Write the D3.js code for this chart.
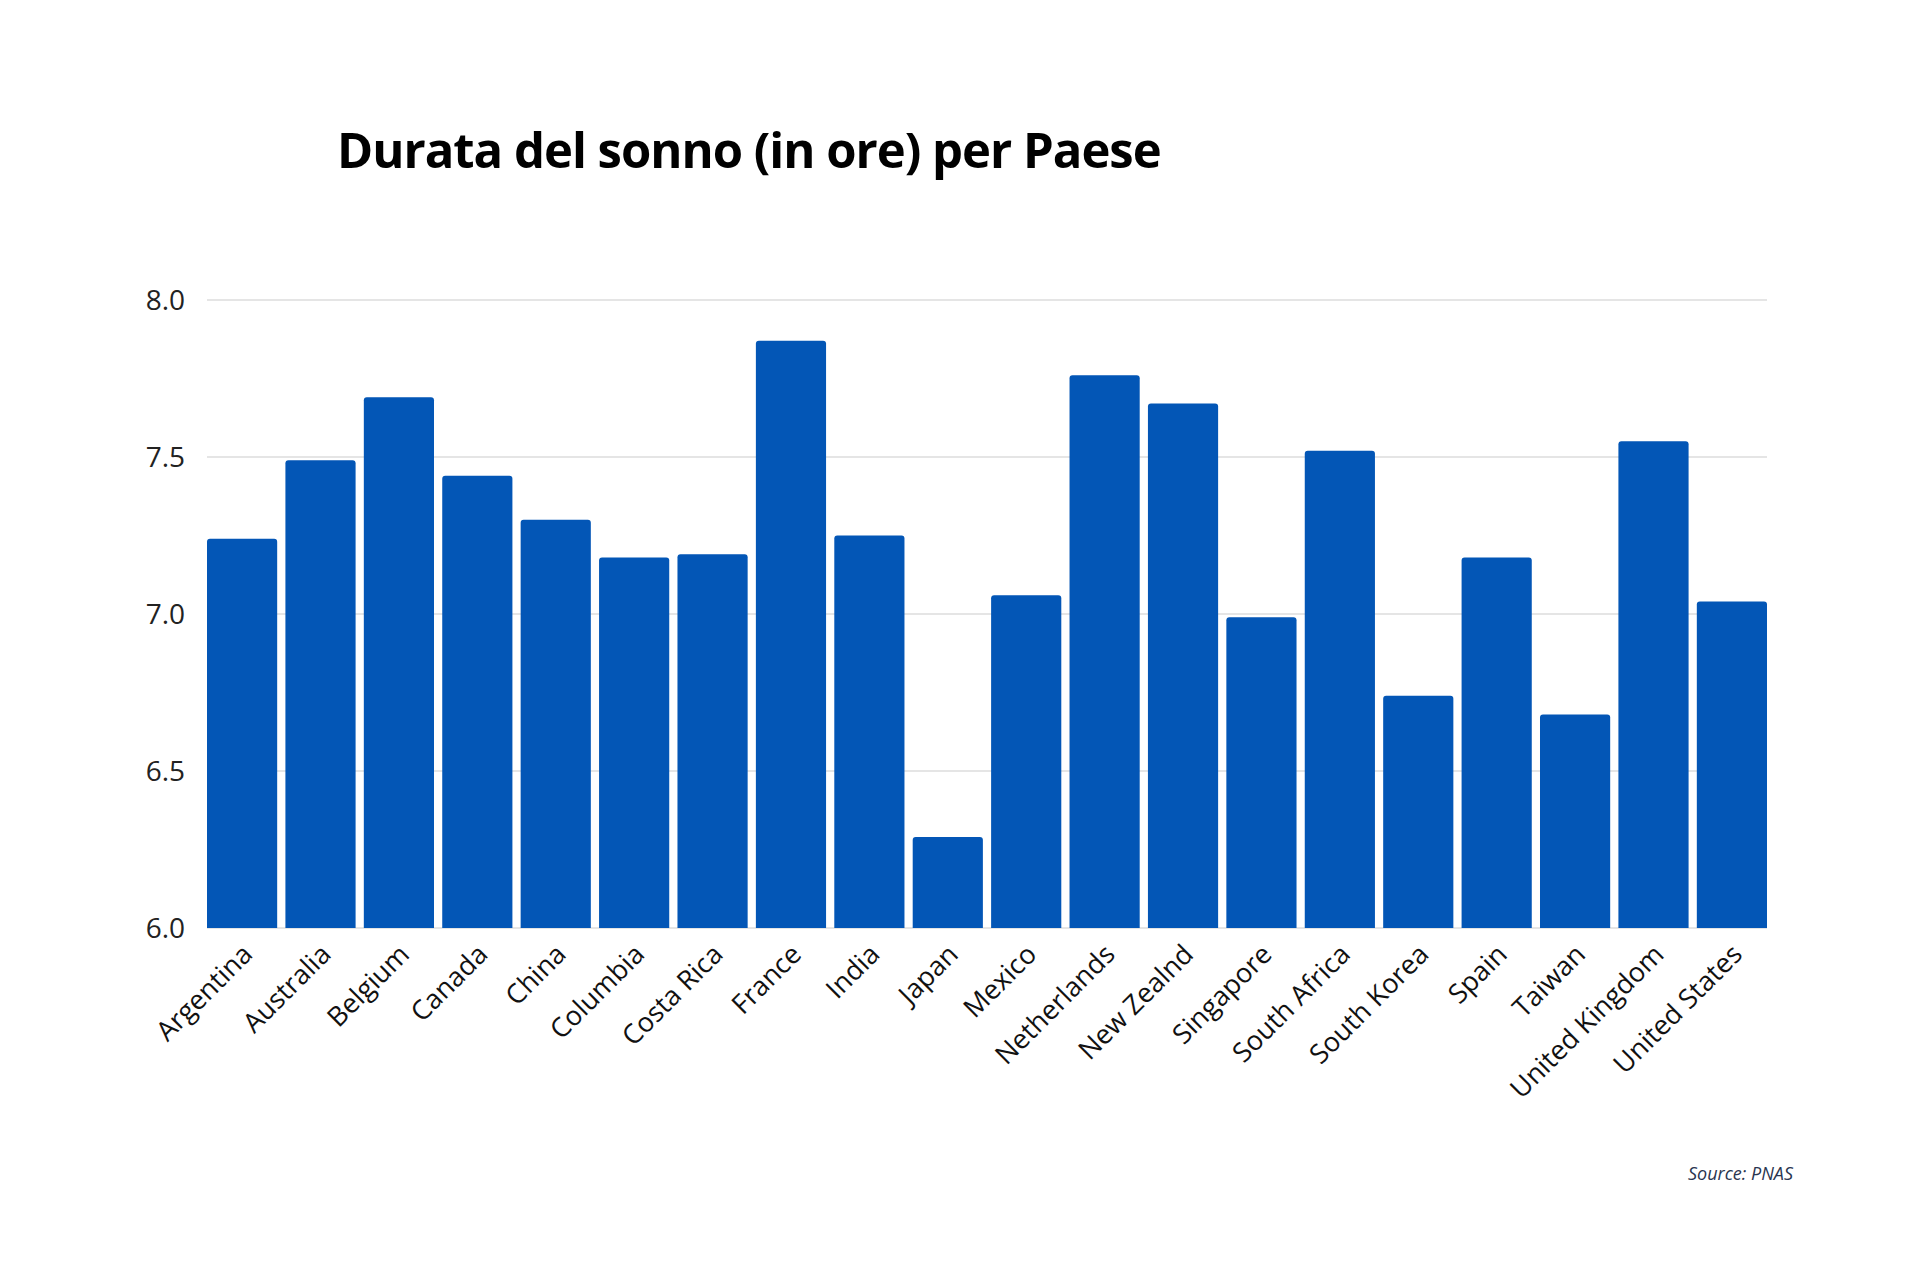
<!DOCTYPE html>
<html><head><meta charset="utf-8">
<script src="https://cdn.jsdelivr.net/npm/d3@7"></script>
<style>body{margin:0;background:#fff}</style>
</head><body>
<svg id="c" width="1920" height="1280"></svg>
<script>
const categories=["Argentina","Australia","Belgium","Canada","China","Columbia","Costa Rica","France","India","Japan","Mexico","Netherlands","New Zealnd","Singapore","South Africa","South Korea","Spain","Taiwan","United Kingdom","United States"];
const values=[7.24,7.49,7.69,7.44,7.30,7.18,7.19,7.87,7.25,6.29,7.06,7.76,7.67,6.99,7.52,6.74,7.18,6.68,7.55,7.04];
const yTicks=[6.0,6.5,7.0,7.5,8.0];

const svg=d3.select("#c");
const L=207,R=1767,T=300,B=928;
const x=d3.scaleBand().domain(categories).range([L,R]).paddingInner(0.105).paddingOuter(0);
const y=d3.scaleLinear().domain([6,8]).range([B,T]);

svg.append("text").attr("x",337).attr("y",168).text("Durata del sonno (in ore) per Paese")
 .attr("font-family","Open Sans").attr("font-weight",700).attr("font-size",49).attr("fill","#000").attr("letter-spacing",-1);

svg.append("g").selectAll("line").data(yTicks).join("line")
 .attr("x1",L).attr("x2",R).attr("y1",d=>y(d)).attr("y2",d=>y(d)).attr("stroke","#dcdcdc").attr("stroke-width",1.5);
svg.append("g").selectAll("text").data(yTicks).join("text")
 .attr("x",185).attr("y",d=>y(d)+10).attr("text-anchor","end").text(d=>d.toFixed(1))
 .attr("font-family","Open Sans").attr("font-size",28).attr("fill","#222");

svg.append("g").selectAll("path").data(values).join("path")
 .attr("d",(d,i)=>{const x0=x(categories[i]),w=x.bandwidth(),y0=y(d),r=3;
   return `M${x0},${B}V${y0+r}Q${x0},${y0} ${x0+r},${y0}H${x0+w-r}Q${x0+w},${y0} ${x0+w},${y0+r}V${B}Z`;})
 .attr("fill","#0356B6");

svg.append("g").selectAll("text").data(categories).join("text")
 .attr("transform",d=>`translate(${x(d)+x.bandwidth()/2+12},${B+28}) rotate(-45)`)
 .attr("text-anchor","end").text(d=>d)
 .attr("font-family","Open Sans").attr("font-size",27).attr("fill","#111");

svg.append("text").attr("x",1793).attr("y",1180).attr("text-anchor","end").text("Source: PNAS")
 .attr("font-family","Open Sans").attr("font-style","italic").attr("font-size",18).attr("fill","#2a3550");
</script>
</body></html>
